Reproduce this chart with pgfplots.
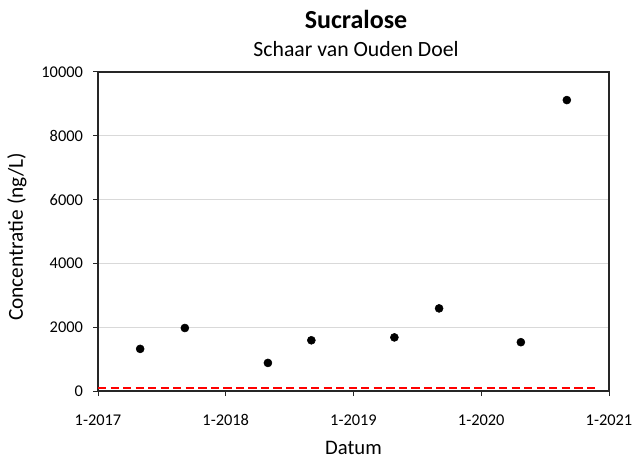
\documentclass[border=0pt]{standalone}
\usepackage{pgfplots}
\pgfplotsset{compat=1.18}
\usepackage{fontspec}
\setmainfont{Carlito}

\begin{document}
\begin{tikzpicture}
\begin{axis}[
    scale only axis,
    width=383.25pt, height=239.25pt,
    xmin=2017, xmax=2021, ymin=0, ymax=10000,
    xtick={2017,2018,2019,2020,2021},
    xticklabels={1-2017,1-2018,1-2019,1-2020,1-2021},
    ytick={0,2000,4000,6000,8000,10000},
    scaled y ticks=false,
    yticklabel style={/pgf/number format/1000 sep={}},
    /pgf/number format/assume math mode=true,
    tick align=outside, xtick pos=left, ytick pos=left,
    major tick length=3.75pt,
    tick style={black!85, line width=0.75pt},
    axis line style={black!85, line width=0.9pt},
    ymajorgrids, grid style={black!15, line width=0.75pt},
    ticklabel style={font=\fontsize{12.3}{14}\selectfont},
    xticklabel style={anchor=base, yshift=-21.75pt},
    yticklabel style={xshift=-4pt},
]
\addplot[red, line width=1.7pt, dash pattern=on 6.2pt off 3.2pt] coordinates {(2017,100) (2020.906,100)};
\addplot[only marks, mark=*, mark size=3pt, black] coordinates {
  (2017.33,1320) (2017.68,1975) (2018.33,880) (2018.67,1590)
  (2019.32,1680) (2019.67,2590) (2020.31,1530) (2020.67,9120)
};
\coordinate (O) at (rel axis cs:0,0);
\coordinate (T) at (rel axis cs:1,1);
\coordinate (TM) at (rel axis cs:0.5,1);
\coordinate (BM) at (rel axis cs:0.5,0);
\coordinate (YL) at (rel axis cs:0,0.5);
\end{axis}
\node[anchor=base, font=\fontsize{19.5}{22}\selectfont\bfseries] at ([xshift=1.9pt,yshift=32.8pt]TM) {Sucralose};
\node[anchor=base, font=\fontsize{16.3}{19}\selectfont] at ([xshift=1.9pt,yshift=11.5pt]TM) {Schaar van Ouden Doel};
\node[anchor=base, font=\fontsize{15.5}{18}\selectfont] at ([yshift=-47.6pt]BM) {Datum};
\node[rotate=90, font=\fontsize{16}{19}\selectfont] at ([xshift=-60.75pt,yshift=-4pt]YL) {Concentratie (ng/L)};
\pgfresetboundingbox
\path[use as bounding box] ([xshift=-73.5pt,yshift=-54.75pt]O) rectangle ([xshift=18.75pt,yshift=54pt]T);
\end{tikzpicture}
\end{document}
